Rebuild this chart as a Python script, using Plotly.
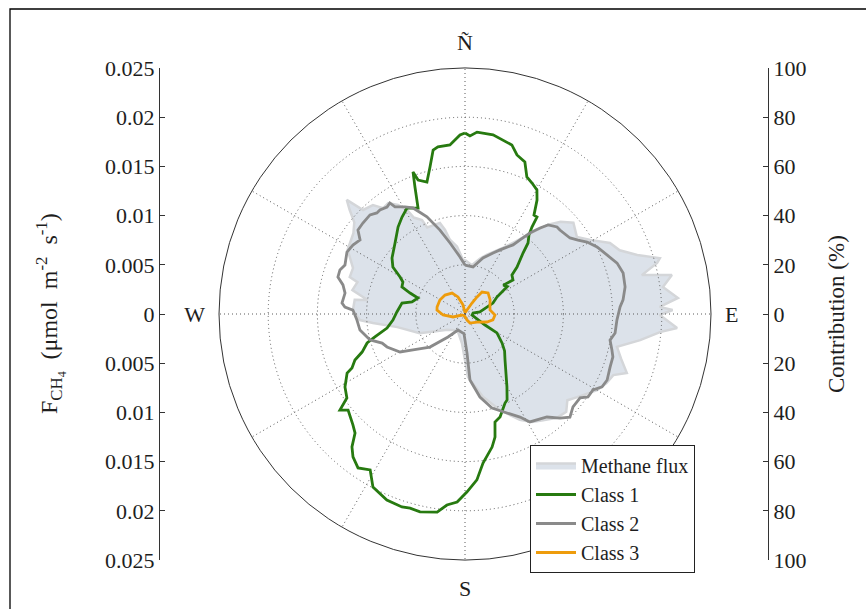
import plotly.graph_objects as go

# ---------------- data ----------------
flux_theta = [0, 8, 15, 20, 25, 30, 35, 40, 43, 46, 49.9, 55.5, 59.4, 63.9, 67.6, 71.1, 74, 75.1, 77.6,
              79.3, 82.2, 85.7, 87.9, 88.9, 90.3, 93.8, 95.3, 98.5, 102.2, 106, 110, 112.4, 116, 120,
              126.5, 130.1, 134, 138.5, 143.7, 148.2, 152.6, 160, 167.8, 177.3, 185.9, 200, 215, 228,
              247, 259, 264.4, 266.7, 272, 277.3, 278.2, 282, 286.5, 287.8, 292.3, 298.7, 305.9, 309.6,
              312.1, 314, 315.6, 319.8, 322.3, 325.3, 328.4, 330.9, 332, 335.4, 336.4, 344.6, 346.6,
              348.5, 353.2, 357.9, 360]
flux_r = [0.0055, 0.0050, 0.0058, 0.0064, 0.0070, 0.0078, 0.0090, 0.0110, 0.0124, 0.0135, 0.0144, 0.0138,
          0.0148, 0.0164, 0.0170, 0.0185, 0.0206, 0.0202, 0.0184, 0.0214, 0.0203, 0.0217, 0.0198, 0.0211,
          0.0198, 0.0216, 0.0199, 0.0180, 0.0158, 0.0165, 0.0175, 0.0163, 0.0160, 0.0155, 0.0142, 0.0136,
          0.0143, 0.0141, 0.0134, 0.0129, 0.0121, 0.0104, 0.0086, 0.0064, 0.0030, 0.0020, 0.0020, 0.0024,
          0.0050, 0.0070, 0.0094, 0.0107, 0.0114, 0.0113, 0.0100, 0.0117, 0.0114, 0.0123, 0.0123, 0.0136,
          0.0140, 0.0146, 0.0158, 0.0167, 0.0148, 0.0145, 0.0136, 0.0137, 0.0130, 0.0121, 0.0111, 0.0105,
          0.0096, 0.0096, 0.0088, 0.0077, 0.0069, 0.0055, 0.0055]

class1_theta = [0, 1.6, 3.8, 8.9, 15.5, 18.1, 21.5, 24.3, 27.1, 30.1, 32.3, 34.9, 36.6, 37.6, 39.0, 41.6,
                43.6, 47.9, 50.3, 54.7, 53.0, 57, 62, 68.6, 82, 83, 98, 118.8, 120.7, 128, 133, 139, 150.1,
                153.9, 155.8, 161.2, 164.5, 166.3, 168.5, 173.1, 175.9, 179.4, 182.4, 185.4, 188.0, 192.8,
                195.8, 198.1, 202.8, 208, 211.3, 214.8, 218.1, 220.4, 222.7, 225.3, 230.6, 232.5, 234.6,
                238.7, 243.4, 244.5, 247.3, 249.7, 253.5, 255.7, 259.8, 265.2, 271.7, 279.9, 282.8, 288.8,
                290.9, 293.2, 297.3, 299.7, 303.1, 307.5, 315.4, 322.4, 327, 331.3, 336.1, 338.5, 339.9,
                340.7, 343.9, 346.6, 349, 350.8, 354.9, 358.4, 360]
class1_r = [73.6, 72.4, 74.1, 73.7, 71.3, 68.0, 66.4, 61.1, 59.8, 58.3, 54.8, 49.0, 49.1, 44.6, 41.3, 38.6,
            34.2, 28.5, 24.8, 23.9, 19.5, 20.5, 14.7, 12.2, 6.1, 3.3, 2.9, 9.3, 15.1, 19.1, 22.0, 24.8, 34.2,
            38.9, 39.7, 44.2, 45.6, 51.5, 55.2, 61.0, 67.6, 72.4, 76.5, 78.0, 81.3, 82.5, 82.0, 82.5, 82.0,
            79.7, 74.2, 76.2, 73.8, 70.9, 65.9, 64.1, 61.5, 64.1, 58.9, 57.1, 53.6, 50.9, 48.5, 44.6, 41.5,
            37.8, 32.2, 29.4, 27.7, 26.0, 22.1, 20.2, 23.9, 27.9, 28.4, 30.4, 35.0, 37.4, 40.5, 44.6, 47.0,
            49.1, 47.1, 55.5, 61.5, 57.7, 55.8, 61.4, 67.9, 68.8, 69.0, 72.8, 73.6]

class2_theta = [0, 9.7, 17.8, 24.7, 28.7, 34.8, 36.6, 38.7, 41.1, 43.0, 46.6, 48.5, 54.1, 56.8, 59.5, 63.1,
                67.4, 71.5, 75.5, 80.4, 84.9, 87.4, 92.3, 97.2, 100.2, 103.8, 106.2, 110.1, 114.9, 118,
                120.7, 124, 126.1, 130.7, 134.5, 137.6, 141.5, 149, 151.9, 157, 164, 169.8, 175.7, 177, 183,
                186, 203.6, 216.5, 226.7, 235.3, 239.7, 247.1, 250.7, 254.7, 261.3, 266.8, 272, 273.3, 275.1,
                279.9, 283.4, 286.2, 289.4, 292.2, 297.7, 301.6, 305.2, 308.1, 311.7, 316.2, 318.9, 320.7,
                323.9, 325.9, 326.8, 330.7, 333.9, 338.6, 343.4, 348.1, 355, 360]
class2_r = [19.9, 19.4, 23.9, 27.3, 29.7, 34.2, 37.5, 42.2, 46.4, 49.5, 51.5, 51.5, 52.7, 54.9, 57.6, 60.2,
            62.5, 65.2, 66.4, 66.0, 64.5, 63.1, 61.8, 61.5, 59.9, 61.5, 62.6, 62.8, 63.7, 63.1, 60.5, 60.3,
            57.9, 57.9, 59.8, 57.3, 53.5, 51.2, 47.5, 43.7, 39.8, 34.3, 26.9, 16.0, 8.0, 7.8, 7.1, 11.6,
            19.6, 25.7, 30.6, 34.4, 35.7, 40.0, 43.2, 44.0, 45.6, 48.9, 50.2, 49.5, 51.0, 53.8, 53.9, 52.7,
            54.2, 53.5, 52.2, 55.3, 55.6, 55.8, 54.5, 54.6, 53.8, 54.5, 52.0, 49.9, 48.0, 42.4, 35.6, 29.5,
            23.3, 19.9]

class3_theta = [0, 15, 26.6, 32.5, 35.2, 37.7, 47.6, 60.8, 70, 80.9, 91.9, 102, 110, 123.7, 151, 161.6,
                180, 220, 251.6, 256, 267.4, 278, 284, 299.2, 313.5, 328.2, 337.6, 347.5, 360]
class3_r = [0.5, 0.8, 1.8, 5.3, 8.5, 11.3, 12.7, 11.7, 10.8, 10.3, 12.2, 11.6, 9.5, 5.9, 4.2, 2.6,
            1.0, 0.8, 1.3, 5.0, 8.9, 11.5, 11.7, 11.7, 11.2, 10.0, 7.5, 3.8, 0.5]

flux_ticks = [0.025, 0.02, 0.015, 0.01, 0.005, 0, -0.005, -0.01, -0.015, -0.02, -0.025]
flux_tick_labels = ["0.025", "0.02", "0.015", "0.01", "0.005", "0", "0.005", "0.01", "0.015", "0.02", "0.025"]
contrib_ticks = [100, 80, 60, 40, 20, 0, -20, -40, -60, -80, -100]
contrib_tick_labels = ["100", "80", "60", "40", "20", "0", "20", "40", "60", "80", "100"]
grid_dirs = [0, 30, 60, 90, 120, 150, 180, 210, 240, 270, 300, 330]
dir_ticks = [0, 90, 180, 270]
dir_labels = ["Ñ", "E", "S", "W"]

# ---------------- figure ----------------
W, H = 866, 609
FONT = "Liberation Serif"
TXT = "#1e1e1e"
cx, cy, R = 465, 314, 246
pol_x = [(cx - R) / W, (cx + R) / W]
pol_y = [1 - (cy + R) / H, 1 - (cy - R) / H]
GRID = dict(gridcolor="#5a5a5a", griddash="1px,3px", gridwidth=1)
HIDDEN_ANG = dict(rotation=90, direction="clockwise", tickvals=[], showticklabels=False, ticks="",
                  showgrid=False, showline=False)
HIDDEN_RAD = dict(tickvals=[], showticklabels=False, ticks="", showgrid=False, showline=False)

fig = go.Figure()

fig.add_trace(go.Scatterpolar(
    theta=flux_theta, r=flux_r, mode="lines", fill="toself",
    fillcolor="#dce2ea", line=dict(color="#d4d6d9", width=2.5),
    name="Methane flux", subplot="polar"))

fig.add_trace(go.Scatterpolar(theta=class1_theta, r=class1_r, mode="lines",
                              line=dict(color="#277a10", width=2.8), name="Class 1", subplot="polar2"))
fig.add_trace(go.Scatterpolar(theta=class2_theta, r=class2_r, mode="lines",
                              line=dict(color="#8a8a8a", width=2.8), name="Class 2", subplot="polar2"))
fig.add_trace(go.Scatterpolar(theta=class3_theta, r=class3_r, mode="lines",
                              line=dict(color="#ee9c0c", width=2.8), name="Class 3", subplot="polar2"))

# invisible traces to carry the side axes and the compass labels
fig.add_trace(go.Scatter(x=[0, 1], y=[-0.025, 0.025], mode="markers", marker=dict(opacity=0),
                         showlegend=False, hoverinfo="skip", xaxis="x", yaxis="y"))
fig.add_trace(go.Scatter(x=[0, 1], y=[-100, 100], mode="markers", marker=dict(opacity=0),
                         showlegend=False, hoverinfo="skip", xaxis="x", yaxis="y2"))
fig.add_trace(go.Scatterpolar(theta=[0], r=[0], mode="markers", marker=dict(opacity=0),
                              showlegend=False, hoverinfo="skip", subplot="polar3"))

tickfont = dict(family=FONT, size=22, color=TXT)

fig.update_layout(
    width=W, height=H, autosize=False,
    margin=dict(l=0, r=0, t=0, b=0, autoexpand=False),
    paper_bgcolor="white", plot_bgcolor="rgba(0,0,0,0)",
    font=dict(family=FONT, size=20, color=TXT),
    polar=dict(
        domain=dict(x=pol_x, y=pol_y), bgcolor="white",
        radialaxis=dict(range=[0, 0.025], **HIDDEN_RAD),
        angularaxis=HIDDEN_ANG,
    ),
    polar2=dict(
        domain=dict(x=pol_x, y=pol_y), bgcolor="rgba(0,0,0,0)",
        radialaxis=dict(range=[0, 100], tickvals=[20, 40, 60, 80], showticklabels=False,
                        ticks="", showline=False, **GRID),
        angularaxis=dict(rotation=90, direction="clockwise", tickvals=grid_dirs, showticklabels=False,
                         ticks="", showline=False, **GRID),
    ),
    polar3=dict(
        domain=dict(x=pol_x, y=pol_y), bgcolor="rgba(0,0,0,0)",
        radialaxis=dict(range=[0, 100], **HIDDEN_RAD),
        angularaxis=dict(rotation=90, direction="clockwise", tickvals=dir_ticks, ticktext=dir_labels,
                         showgrid=False, showline=True, linecolor="#333333", linewidth=1,
                         ticks="outside", ticklen=9, tickcolor="rgba(0,0,0,0)", tickfont=tickfont),
    ),
    xaxis=dict(domain=[160 / W, 768 / W], range=[0, 1], showticklabels=False, ticks="", tickvals=[],
               showgrid=False, zeroline=False, showline=False, fixedrange=True, automargin=False),
    yaxis=dict(domain=pol_y, range=[-0.025, 0.025], tickvals=flux_ticks, ticktext=flux_tick_labels,
               ticks="inside", ticklen=5, tickcolor="#333333", showline=True, linecolor="#333333",
               linewidth=1, showgrid=False, zeroline=False, tickfont=tickfont, anchor="x", side="left",
               automargin=False),
    yaxis2=dict(domain=pol_y, range=[-100, 100], tickvals=contrib_ticks, ticktext=contrib_tick_labels,
                ticks="inside", ticklen=5, tickcolor="#333333", showline=True, linecolor="#333333",
                linewidth=1, showgrid=False, zeroline=False, tickfont=tickfont, anchor="x",
                overlaying="y", side="right", automargin=False),
    legend=dict(x=530 / W, y=1 - 509 / H, xanchor="left", yanchor="middle",
                bgcolor="white", bordercolor="#222222", borderwidth=1, itemwidth=40,
                font=dict(family=FONT, size=20, color=TXT), tracegroupgap=0),
    showlegend=True,
)

mid_y = 0.5 * (pol_y[0] + pol_y[1])
fig.add_annotation(x=50 / W, y=mid_y, xref="paper", yref="paper", xanchor="center", yanchor="middle",
                   text="F<sub>CH<sub>4</sub></sub>&nbsp; (μmol&nbsp; m<sup>-2</sup>&nbsp; s<sup>-1</sup>)",
                   textangle=-90, showarrow=False, font=dict(family=FONT, size=24, color=TXT))
fig.add_annotation(x=836 / W, y=mid_y, xref="paper", yref="paper", xanchor="center", yanchor="middle",
                   text="Contribution (%)", textangle=-90, showarrow=False,
                   font=dict(family=FONT, size=23, color=TXT))

# outer frame (cropped border of the original figure)
fig.add_shape(type="rect", xref="paper", yref="paper", x0=10 / W, x1=1.05, y0=-0.05, y1=1 - 9 / H,
              line=dict(color="black", width=1.3), fillcolor="rgba(0,0,0,0)", layer="above")

fig.write_html("out.html")
